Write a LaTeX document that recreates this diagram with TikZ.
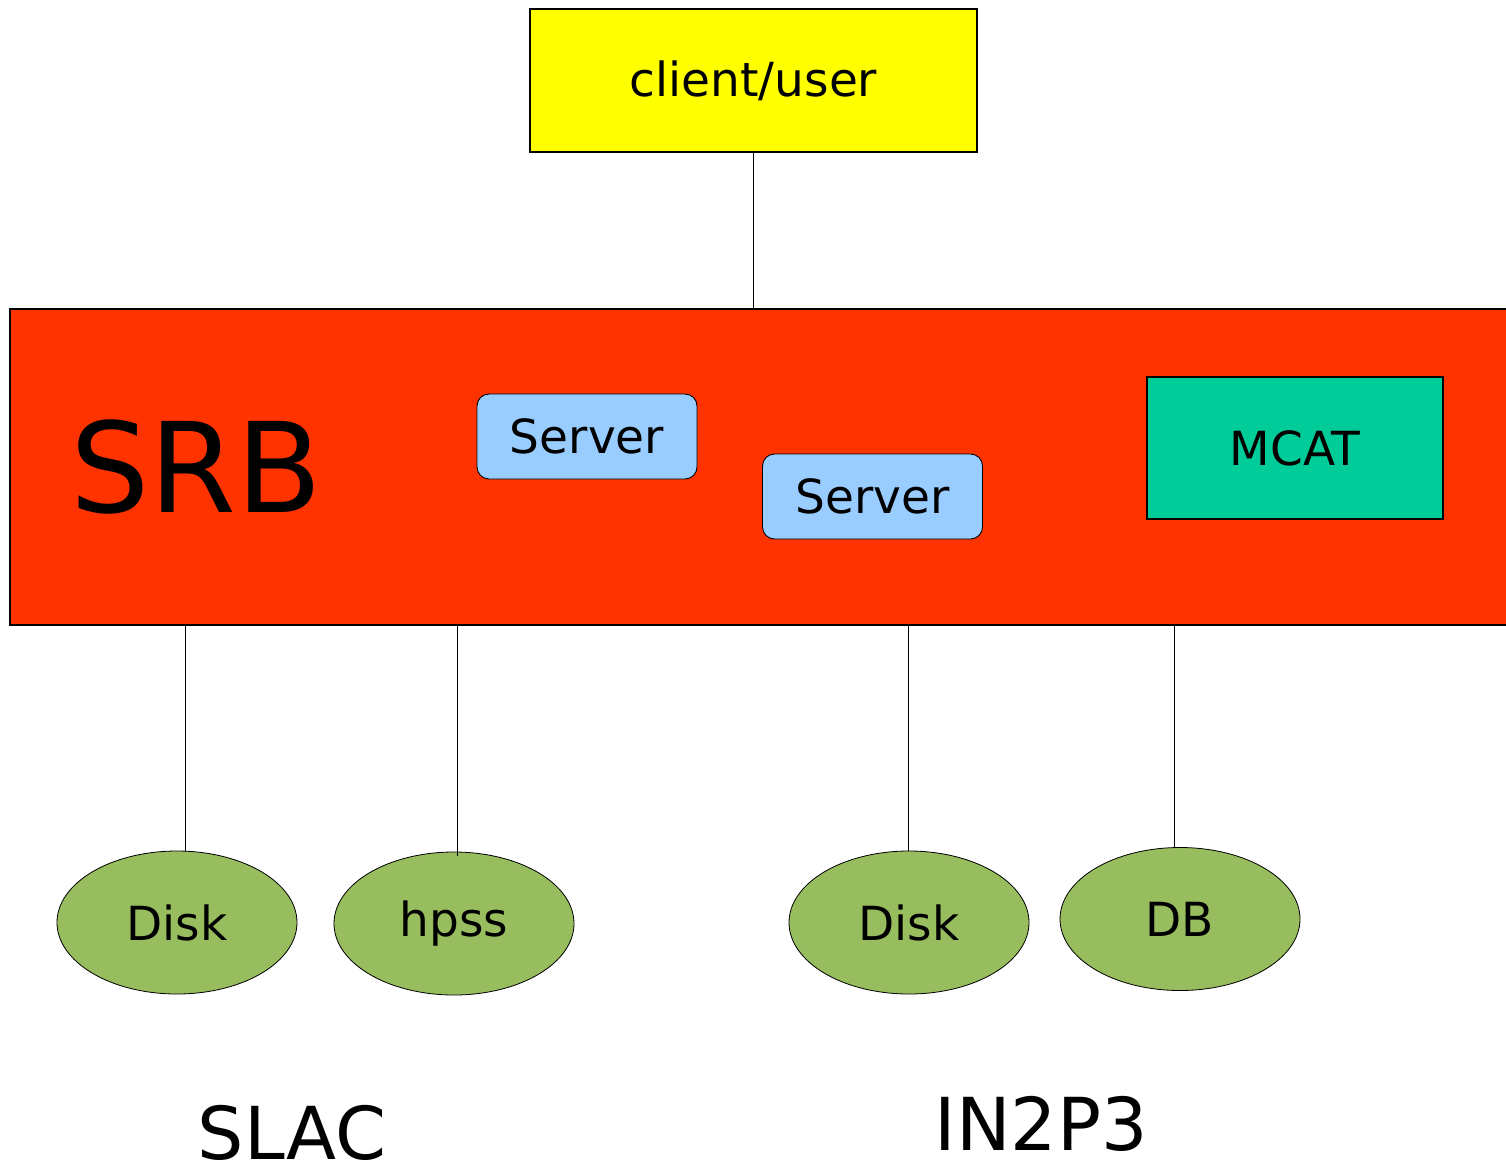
\documentclass[tikz,border=0pt]{standalone}
\usepackage{fontspec}
\setmainfont{DejaVu Sans}
\usetikzlibrary{shapes.geometric}
\definecolor{clientyellow}{HTML}{FFFF00}
\definecolor{srbred}{HTML}{FF3300}
\definecolor{servblue}{HTML}{99CCFF}
\definecolor{mcatgreen}{HTML}{00CC99}
\definecolor{olive}{HTML}{97BD5E}
\newcommand{\fsz}[1]{\fontsize{#1}{#1}\selectfont}
\begin{document}
\begin{tikzpicture}[x=1pt,y=-1pt,
  box/.style={draw=black,line width=1.4pt,inner sep=0pt,font=\fsz{47}},
  srvbox/.style={box,line width=0.9pt,fill=servblue,rounded corners=12pt,minimum width=220pt,minimum height=85pt},
  store/.style={ellipse,draw=black,line width=0.8pt,fill=olive,inner sep=0pt,minimum width=240pt,minimum height=143pt,font=\fsz{47}},
  link/.style={draw=black,line width=0.8pt},
  site/.style={anchor=base,inner sep=0pt,font=\fsz{73}}]
\useasboundingbox (0,0) rectangle (1506,1165);
\clip (0,0) rectangle (1506,1165);
\fill[white] (0,0) rectangle (1506,1165);
\node[box,fill=clientyellow,minimum width=447pt,minimum height=143pt] (client) at (753.5,80.5) {client/user};
\node[box,fill=srbred,minimum width=1510pt,minimum height=316pt] (srb) at (765,467) {};
\node[anchor=base,inner sep=0pt,font=\fsz{125}] (srblabel) at (196.5,512) {SRB};
\node[srvbox] (srv1) at (587,436.5) {Server};
\node[srvbox] (srv2) at (872.5,496.5) {Server};
\node[box,fill=mcatgreen,minimum width=296pt,minimum height=142pt] (mcat) at (1295,448) {MCAT};
\node[store] (disk1) at (177,922.5) {Disk};
\node[store] (hpss) at (454,923.5) {hpss};
\node[store] (disk2) at (909,922.5) {Disk};
\node[store] (db) at (1180,919) {DB};
\node[site] (slac) at (292,1159) {SLAC};
\node[site] (in2p3) at (1041,1150) {IN2P3};
\draw[link] (client.south) -- (client.south |- srb.north);
\draw[link] ([xshift=8pt]disk1.north |- srb.south) -- ([xshift=8pt]disk1.north);
\draw[link] ([xshift=3pt]hpss.north |- srb.south) -- ([xshift=3pt,yshift=-4pt]hpss.north);
\draw[link] ([xshift=-1pt]disk2.north |- srb.south) -- ([xshift=-1pt]disk2.north);
\draw[link] ([xshift=-6pt]db.north |- srb.south) -- ([xshift=-6pt]db.north);
\end{tikzpicture}
\end{document}
